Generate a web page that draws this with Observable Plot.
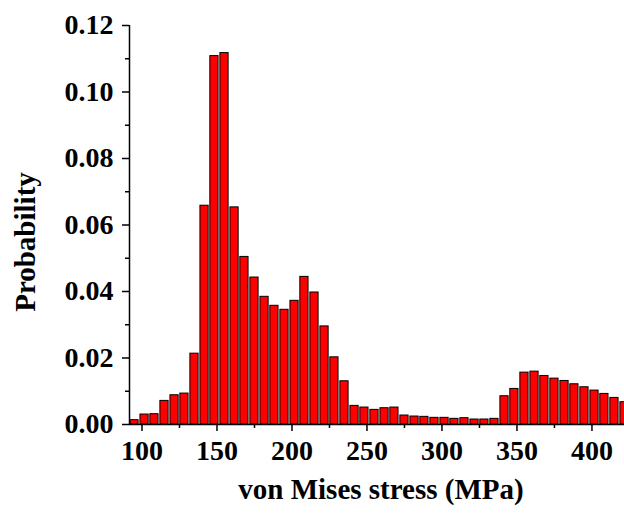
<!DOCTYPE html>
<html>
<head>
<meta charset="utf-8">
<script src="https://cdn.jsdelivr.net/npm/d3@7"></script>
<script src="https://cdn.jsdelivr.net/npm/@observablehq/plot@0.6"></script>
<style>
  html, body { margin: 0; padding: 0; background: #fff; }
</style>
</head>
<body>
<div id="chart"></div>
<script>
// von Mises stress bin centers (MPa)
const binCenters = [
  95.0, 101.7, 108.3, 115.0, 121.7, 128.3, 135.0, 141.7, 148.3, 155.0,
  161.7, 168.3, 175.0, 181.7, 188.3, 195.0, 201.7, 208.3, 215.0, 221.7,
  228.3, 235.0, 241.7, 248.3, 255.0, 261.7, 268.3, 275.0, 281.7, 288.3,
  295.0, 301.7, 308.3, 315.0, 321.7, 328.3, 335.0, 341.7, 348.3, 355.0,
  361.7, 368.3, 375.0, 381.7, 388.3, 395.0, 401.7, 408.3, 415.0, 421.7
];
const binWidth = 6.667;
// probability of each bin
const probability = [
  0.0013, 0.0030, 0.0031, 0.0071, 0.0088, 0.0093, 0.0213, 0.0658, 0.1108, 0.1117,
  0.0653, 0.0504, 0.0442, 0.0384, 0.0357, 0.0345, 0.0372, 0.0444, 0.0397, 0.0295,
  0.0202, 0.0130, 0.0056, 0.0051, 0.0044, 0.0049, 0.0051, 0.0027, 0.0024, 0.0023,
  0.0020, 0.0020, 0.0017, 0.0019, 0.0015, 0.0015, 0.0017, 0.0085, 0.0107, 0.0156,
  0.0159, 0.0146, 0.0138, 0.0131, 0.0121, 0.0112, 0.0102, 0.0092, 0.0080, 0.0067
];
const xMajorTicks = [100, 150, 200, 250, 300, 350, 400];
const xMinorTicks = [125, 175, 225, 275, 325, 375];
const yMajorTicks = [0, 0.02, 0.04, 0.06, 0.08, 0.10, 0.12];
const yMinorTicks = [0.01, 0.03, 0.05, 0.07, 0.09, 0.11];
const xLabel = "von Mises stress (MPa)";
const yLabel = "Probability";

const bins = binCenters.map((c, i) => ({
  x1: c - binWidth / 2,
  x2: c + binWidth / 2,
  p: probability[i]
}));

const xDomain = [binCenters[0] - binWidth / 2, binCenters[binCenters.length - 1]];

const font = "'Liberation Serif', 'Times New Roman', serif";

const chart = Plot.plot({
  width: 624,
  height: 513,
  marginLeft: 129,
  marginRight: 0,
  marginTop: 25,
  marginBottom: 89,
  style: { fontFamily: font, fontWeight: "bold", background: "#fff", overflow: "visible" },
  x: { domain: xDomain, axis: null },
  y: { domain: [0, 0.12], axis: null },
  marks: [
    Plot.rectY(bins, {
      x1: "x1", x2: "x2", y1: 0, y2: "p",
      fill: "#ff0000", stroke: "#000", strokeWidth: 1,
      insetLeft: 0.9, insetRight: 0.9
    }),
    Plot.axisX({
      ticks: xMajorTicks, tickSize: 7, tickPadding: 9, tickFormat: d3.format("d"),
      fontSize: 28, strokeWidth: 1.5, label: null
    }),
    Plot.axisX({
      ticks: xMinorTicks, tickSize: 4, tickFormat: () => "", strokeWidth: 1.5, label: null
    }),
    Plot.axisY({
      ticks: yMajorTicks, tickSize: 7, tickPadding: 9, tickFormat: d3.format(".2f"),
      fontSize: 28, strokeWidth: 1.5, label: null
    }),
    Plot.axisY({
      ticks: yMinorTicks, tickSize: 4, tickFormat: () => "", strokeWidth: 1.5, label: null
    }),
    Plot.ruleY([0], { stroke: "#000", strokeWidth: 1.5 }),
    Plot.ruleX([xDomain[0]], { stroke: "#000", strokeWidth: 1.5 }),
    Plot.text([xLabel], {
      frameAnchor: "bottom", dx: 4, dy: 74, text: d => d,
      fontSize: 29, fontWeight: "bold", fill: "#000"
    }),
    Plot.text([yLabel], {
      frameAnchor: "left", dx: -104, dy: 17, rotate: -90, text: d => d,
      textAnchor: "middle",
      fontSize: 29, fontWeight: "bold", fill: "#000"
    })
  ]
});

document.getElementById("chart").appendChild(chart);
</script>
</body>
</html>
